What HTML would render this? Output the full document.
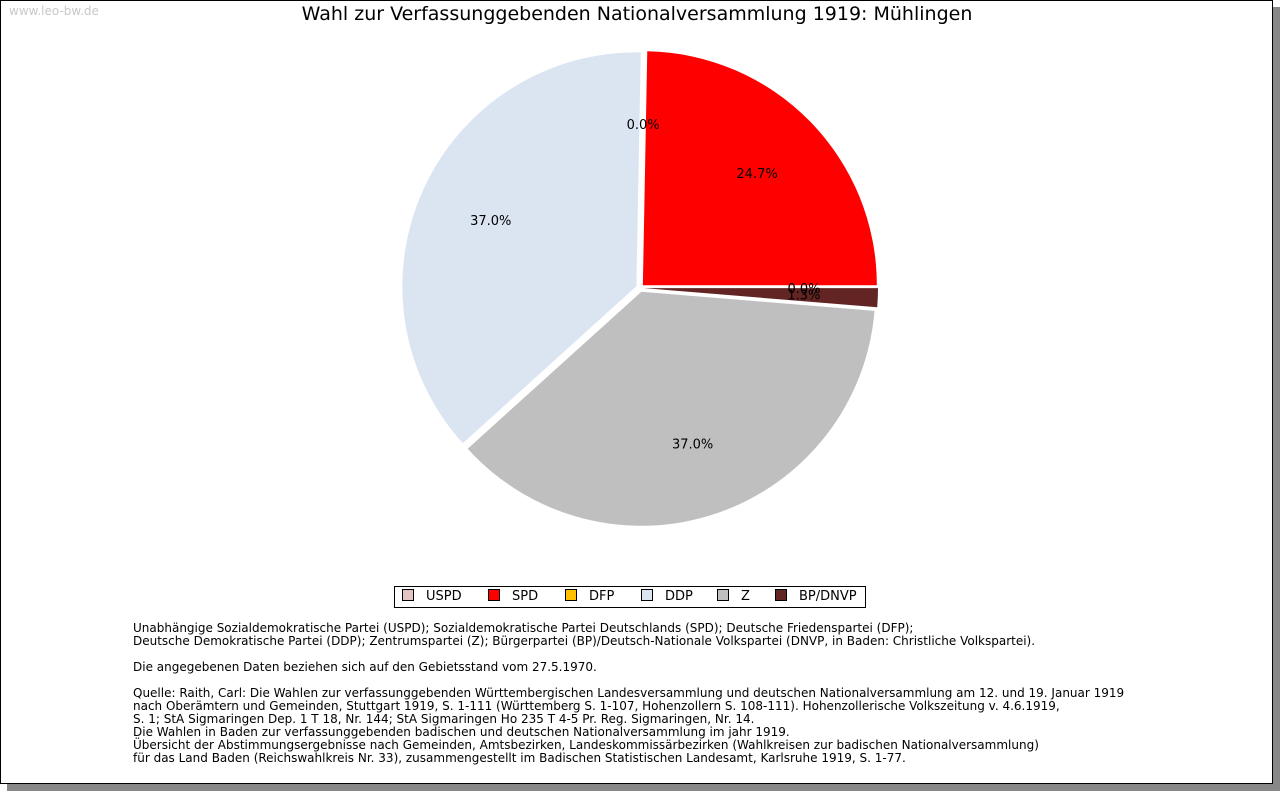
<!DOCTYPE html>
<html><head><meta charset="utf-8"><style>
body{margin:0;width:1280px;height:791px;background:#fff;position:relative;overflow:hidden;font-family:"DejaVu Sans","Liberation Sans",sans-serif}
#frame{position:absolute;left:0;top:0;width:1271px;height:782px;border:1px solid #000;background:#fff;box-shadow:7px 7px 0 #888}
#wm{position:absolute;left:9px;top:4px;font-size:12px;color:#c8c8c8}
#title{position:absolute;left:0;width:1274px;top:3px;text-align:center;font-size:19px;color:#000}
#legend{position:absolute;left:394px;top:586px;width:470px;height:20px;border:1px solid #000;font-size:13px}
.li{position:absolute;top:2px;white-space:nowrap}
.sw{display:inline-block;width:10px;height:10px;border:1px solid #000;vertical-align:-1px;margin-right:12px}
#notes{position:absolute;left:133px;top:622px;font-size:12px;line-height:13px;color:#000;white-space:pre}
svg{position:absolute;left:0;top:0}
</style></head><body>
<div id="frame"></div>
<div id="wm">www.leo-bw.de</div>
<div id="title">Wahl zur Verfassunggebenden Nationalversammlung 1919: Mühlingen</div>
<svg id="pie" width="1280" height="791"></svg>
<div id="legend">
<span class="li" style="left:7px"><span class="sw" style="background:#e6c3c3"></span>USPD</span>
<span class="li" style="left:93px"><span class="sw" style="background:#ff0000"></span>SPD</span>
<span class="li" style="left:170px"><span class="sw" style="background:#ffc000"></span>DFP</span>
<span class="li" style="left:246px"><span class="sw" style="background:#dbe5f1"></span>DDP</span>
<span class="li" style="left:322px"><span class="sw" style="background:#bfbfbf"></span>Z</span>
<span class="li" style="left:380px"><span class="sw" style="background:#632523"></span>BP/DNVP</span>
</div>
<div id="notes">Unabhängige Sozialdemokratische Partei (USPD); Sozialdemokratische Partei Deutschlands (SPD); Deutsche Friedenspartei (DFP);
Deutsche Demokratische Partei (DDP); Zentrumspartei (Z); Bürgerpartei (BP)/Deutsch-Nationale Volkspartei (DNVP, in Baden: Christliche Volkspartei).

Die angegebenen Daten beziehen sich auf den Gebietsstand vom 27.5.1970.

Quelle: Raith, Carl: Die Wahlen zur verfassunggebenden Württembergischen Landesversammlung und deutschen Nationalversammlung am 12. und 19. Januar 1919
nach Oberämtern und Gemeinden, Stuttgart 1919, S. 1-111 (Württemberg S. 1-107, Hohenzollern S. 108-111). Hohenzollerische Volkszeitung v. 4.6.1919,
S. 1; StA Sigmaringen Dep. 1 T 18, Nr. 144; StA Sigmaringen Ho 235 T 4-5 Pr. Reg. Sigmaringen, Nr. 14.
Die Wahlen in Baden zur verfassunggebenden badischen und deutschen Nationalversammlung im jahr 1919.
Übersicht der Abstimmungsergebnisse nach Gemeinden, Amtsbezirken, Landeskommissärbezirken (Wahlkreisen zur badischen Nationalversammlung)
für das Land Baden (Reichswahlkreis Nr. 33), zusammengestellt im Badischen Statistischen Landesamt, Karlsruhe 1919, S. 1-77.</div>
<script>
const parties=["USPD","SPD","DFP","DDP","Z","BP/DNVP"];
const shares=[0.0,24.7,0.0,37.0,37.0,1.3];
const colors=["#e6c3c3","#ff0000","#ffc000","#dbe5f1","#bfbfbf","#632523"];
const svg=document.getElementById('pie');
const NS="http://www.w3.org/2000/svg";
const cx=640,cy=288,R=234,ex=4,lr=160;
const total=shares.reduce((a,b)=>a+b,0);
const labels=[];
let a=0;
shares.forEach((v,i)=>{
  const sweep=v/total*360;
  const mid=(a+sweep/2)*Math.PI/180;
  const ox=cx+ex*Math.cos(mid), oy=cy-ex*Math.sin(mid);
  if(sweep>0){
    const a0=a*Math.PI/180,a1=(a+sweep)*Math.PI/180;
    const x0=ox+R*Math.cos(a0),y0=oy-R*Math.sin(a0),x1=ox+R*Math.cos(a1),y1=oy-R*Math.sin(a1);
    const p=document.createElementNS(NS,'path');
    p.setAttribute('d',`M${ox},${oy}L${x0},${y0}A${R},${R} 0 ${sweep>180?1:0} 0 ${x1},${y1}Z`);
    p.setAttribute('fill',colors[i]);
    
    
    svg.appendChild(p);
  }
  labels.push([ox+lr*Math.cos(mid),oy-lr*Math.sin(mid)+5,v,i]);
  a+=sweep;
});
labels.forEach(([x,y,v,i])=>{
  const t=document.createElementNS(NS,'text');
  t.setAttribute('x',x);
  t.setAttribute('y',y);
  t.setAttribute('text-anchor','middle');
  t.setAttribute('font-size','13');
  t.setAttribute('font-family','DejaVu Sans, sans-serif');
  t.textContent=v.toFixed(1)+'%';
  
  
  svg.appendChild(t);
});
</script>
</body></html>
